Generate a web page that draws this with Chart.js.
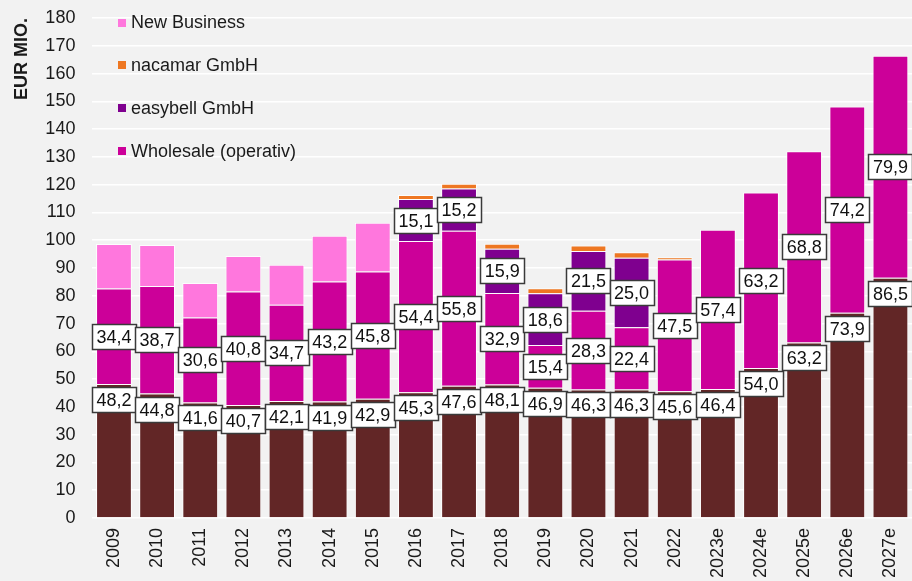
<!DOCTYPE html>
<html>
<head>
<meta charset="utf-8">
<script src="https://cdn.jsdelivr.net/npm/chart.js@4"></script>
<style>
  html, body { margin: 0; padding: 0; background: #f2f2f2; }
  #wrap { width: 912px; height: 581px; position: relative; }
</style>
</head>
<body>
<div id="wrap"><canvas id="c" width="912" height="581"></canvas></div>
<script>
const categories = ['2009','2010','2011','2012','2013','2014','2015','2016','2017','2018','2019','2020','2021','2022','2023e','2024e','2025e','2026e','2027e'];
const basis       = [48.2,44.8,41.6,40.7,42.1,41.9,42.9,45.3,47.6,48.1,46.9,46.3,46.3,45.6,46.4,54.0,63.2,73.9,86.5];
const wholesale   = [34.4,38.7,30.6,40.8,34.7,43.2,45.8,54.4,55.8,32.9,15.4,28.3,22.4,47.5,57.4,63.2,68.8,74.2,79.9];
const easybell    = [null,null,null,null,null,null,null,15.1,15.2,15.9,18.6,21.5,25.0,null,null,null,null,null,null];
const nacamar     = [null,null,null,null,null,null,null,1.5,1.7,1.8,1.8,2.0,2.0,0.8,null,null,null,null,null];
const newBusiness = [16.0,14.8,12.4,12.8,14.4,16.5,17.6,null,null,null,null,null,null,null,null,null,null,null,null];
const yTicks = [0,10,20,30,40,50,60,70,80,90,100,110,120,130,140,150,160,170,180];

const COLORS = {
  basis: '#622626',
  wholesale: '#cc0099',
  easybell: '#7f008f',
  nacamar: '#ee7722',
  newBusiness: '#ff77dd'
};
const FONT = "'Liberation Sans', Arial, sans-serif";

const legendItems = [
  { text: 'New Business', color: COLORS.newBusiness },
  { text: 'nacamar GmbH', color: COLORS.nacamar },
  { text: 'easybell GmbH', color: COLORS.easybell },
  { text: 'Wholesale (operativ)', color: COLORS.wholesale }
];

function fmt(v) { return v.toFixed(1).replace('.', ','); }

const bgPlugin = {
  id: 'bg',
  beforeDraw(chart) {
    const ctx = chart.ctx;
    ctx.save();
    ctx.fillStyle = '#f2f2f2';
    ctx.fillRect(0, 0, chart.width, chart.height);
    ctx.restore();
  }
};

const labelPlugin = {
  id: 'boxLabels',
  afterDatasetsDraw(chart) {
    const ctx = chart.ctx;
    ctx.save();
    ctx.font = '18px ' + FONT;
    ctx.textAlign = 'center';
    ctx.textBaseline = 'middle';
    chart.data.datasets.forEach((ds, di) => {
      if (!ds.boxLabel) return;
      const meta = chart.getDatasetMeta(di);
      meta.data.forEach((el, i) => {
        const v = ds.data[i];
        if (v === null || v === undefined) return;
        const txt = fmt(v);
        const tw = ctx.measureText(txt).width;
        const w = Math.round(tw + 9);
        const h = 25;
        let cy;
        if (ds.boxLabel === 'top') {
          cy = el.y + 3 + h / 2;
        } else {
          cy = (el.y + el.base) / 2;
        }
        const x0 = Math.round(el.x - w / 2) + 0.5;
        const y0 = Math.round(cy - h / 2) + 0.5;
        ctx.fillStyle = '#ffffff';
        ctx.fillRect(x0, y0, w, h);
        ctx.lineWidth = 1.5;
        ctx.strokeStyle = '#3a3a3a';
        ctx.strokeRect(x0, y0, w, h);
        ctx.fillStyle = '#111111';
        ctx.fillText(txt, el.x, y0 + h / 2 + 1);
      });
    });
    ctx.restore();
  }
};

const legendPlugin = {
  id: 'customLegend',
  afterDraw(chart) {
    const ctx = chart.ctx;
    ctx.save();
    ctx.font = '18px ' + FONT;
    ctx.textAlign = 'left';
    ctx.textBaseline = 'middle';
    legendItems.forEach((it, i) => {
      const cy = 22.5 + i * 42.7;
      ctx.fillStyle = it.color;
      ctx.fillRect(118, Math.round(cy - 4), 8, 8);
      ctx.fillStyle = '#1a1a1a';
      ctx.fillText(it.text, 131, cy + 1);
    });
    ctx.restore();
  }
};

const common = {
  borderColor: 'rgba(255,255,255,0.85)',
  borderWidth: 1,
  borderSkipped: 'start',
  barPercentage: 0.83,
  categoryPercentage: 1.0
};

new Chart(document.getElementById('c'), {
  type: 'bar',
  data: {
    labels: categories,
    datasets: [
      Object.assign({ label: 'Basis', data: basis, backgroundColor: COLORS.basis, boxLabel: 'top' }, common),
      Object.assign({ label: 'Wholesale (operativ)', data: wholesale, backgroundColor: COLORS.wholesale, boxLabel: 'center' }, common),
      Object.assign({ label: 'easybell GmbH', data: easybell, backgroundColor: COLORS.easybell, boxLabel: 'center' }, common),
      Object.assign({ label: 'nacamar GmbH', data: nacamar, backgroundColor: COLORS.nacamar }, common),
      Object.assign({ label: 'New Business', data: newBusiness, backgroundColor: COLORS.newBusiness }, common)
    ]
  },
  options: {
    responsive: false,
    animation: false,
    devicePixelRatio: 1,
    layout: { padding: { left: 7, right: 0, top: 18, bottom: 3 } },
    plugins: {
      legend: { display: false },
      tooltip: { enabled: false },
      title: { display: false }
    },
    scales: {
      x: {
        stacked: true,
        grid: { display: false, drawTicks: false },
        border: { display: false },
        afterFit(scale) { scale.height = 60; scale.paddingRight = 0; scale.paddingLeft = 0; },
        ticks: {
          color: '#1a1a1a',
          font: { family: FONT, size: 18 },
          maxRotation: 90,
          minRotation: 90,
          padding: 10,
          autoSkip: false
        }
      },
      y: {
        stacked: true,
        min: 0,
        max: 180,
        afterBuildTicks(scale) { scale.ticks = yTicks.map(v => ({ value: v })); },
        afterFit(scale) { scale.width = 85.4; scale.paddingTop = 0; scale.paddingBottom = 0; },
        grid: { color: '#ffffff', lineWidth: 1.5, drawTicks: false },
        border: { display: false },
        ticks: {
          color: '#1a1a1a',
          font: { family: FONT, size: 18 },
          padding: 17,
          callback: (v) => String(v)
        },
        title: {
          display: true,
          text: 'EUR MIO.',
          align: 'end',
          color: '#1a1a1a',
          font: { family: FONT, size: 18, weight: 'bold' },
          padding: { top: 4, bottom: 4 }
        }
      }
    }
  },
  plugins: [bgPlugin, labelPlugin, legendPlugin]
});
</script>
</body>
</html>
